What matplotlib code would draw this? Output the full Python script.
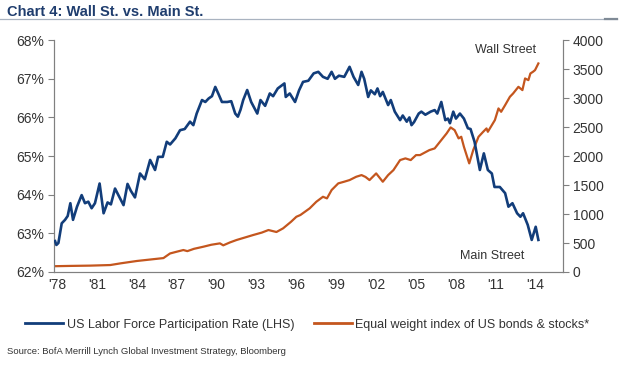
import matplotlib
matplotlib.use('Agg')
import matplotlib.pyplot as plt
from matplotlib import font_manager
from matplotlib.lines import Line2D

names = {f.name for f in font_manager.fontManager.ttflist}
narrow = 'Liberation Sans Narrow' if 'Liberation Sans Narrow' in names else 'Liberation Sans'
plt.rcParams['font.family'] = [narrow, 'DejaVu Sans']

# US labor force participation rate (left axis, %)
lfpr_year = [1977.85, 1977.95, 1978.1, 1978.35, 1978.6, 1978.8, 1979.0, 1979.2, 1979.5, 1979.85,
             1980.1, 1980.35, 1980.6, 1980.85, 1981.2, 1981.5, 1981.8, 1982.05, 1982.36, 1982.6,
             1983.0, 1983.3, 1983.55, 1983.86, 1984.24, 1984.6, 1985.0, 1985.37, 1985.6, 1985.95,
             1986.25, 1986.5, 1986.9, 1987.25, 1987.6, 1988.0, 1988.25, 1988.5, 1988.9, 1989.15,
             1989.4, 1989.65, 1989.9, 1990.15, 1990.4, 1990.8, 1991.1, 1991.4, 1991.6, 1991.8,
             1992.0, 1992.3, 1992.6, 1993.06, 1993.3, 1993.65, 1994.0, 1994.25, 1994.6, 1995.1,
             1995.2, 1995.5, 1995.9, 1996.2, 1996.5, 1996.9, 1997.3, 1997.65, 1998.0, 1998.35,
             1998.65, 1998.9, 1999.2, 1999.6, 2000.0, 2000.3, 2000.65, 2000.9, 2001.1, 2001.4,
             2001.6, 2001.9, 2002.1, 2002.3, 2002.5, 2002.9, 2003.1, 2003.4, 2003.8, 2004.0,
             2004.3, 2004.5, 2004.66, 2004.85, 2005.2, 2005.4, 2005.7, 2006.1, 2006.4, 2006.6,
             2006.9, 2007.2, 2007.4, 2007.55, 2007.8, 2008.0, 2008.3, 2008.6, 2008.9, 2009.1,
             2009.4, 2009.8, 2010.1, 2010.4, 2010.7, 2010.9, 2011.3, 2011.7, 2011.95, 2012.25,
             2012.6, 2012.85, 2013.05, 2013.4, 2013.7, 2013.85, 2014.0, 2014.2]
lfpr_val = [62.8, 62.7, 62.75, 63.26, 63.35, 63.45, 63.78, 63.35, 63.69, 63.99,
            63.78, 63.82, 63.65, 63.78, 64.29, 63.52, 63.8, 63.75, 64.16, 64.0,
            63.73, 64.28, 64.1, 63.93, 64.55, 64.4, 64.9, 64.64, 64.98, 64.98,
            65.37, 65.3, 65.46, 65.67, 65.7, 65.89, 65.8, 66.1, 66.45, 66.4,
            66.49, 66.55, 66.79, 66.6, 66.4, 66.4, 66.42, 66.1, 66.02, 66.2,
            66.45, 66.71, 66.4, 66.1, 66.45, 66.3, 66.62, 66.55, 66.75, 66.88,
            66.53, 66.62, 66.4, 66.7, 66.92, 66.95, 67.14, 67.18, 67.05, 67.0,
            67.18, 67.0, 67.08, 67.05, 67.31, 67.05, 66.84, 67.18, 67.0, 66.53,
            66.7, 66.6, 66.75, 66.55, 66.66, 66.32, 66.45, 66.15, 65.93, 66.05,
            65.89, 66.0, 65.8, 65.88, 66.1, 66.15, 66.07, 66.15, 66.19, 66.1,
            66.4, 65.93, 65.97, 65.85, 66.15, 65.97, 66.1, 65.97, 65.72, 65.7,
            65.37, 64.64, 65.07, 64.64, 64.55, 64.2, 64.2, 64.04, 63.69, 63.78,
            63.52, 63.43, 63.52, 63.22, 62.83, 63.0, 63.17, 62.83]

# Equal weight index of US bonds & stocks (right axis)
idx_year = [1977.8, 1979.0, 1980.5, 1982.0, 1982.8, 1984.0, 1985.0, 1986.0, 1986.5, 1987.0,
            1987.5, 1987.8, 1988.3, 1989.0, 1989.6, 1990.25, 1990.5, 1991.0, 1991.5, 1992.2,
            1992.75, 1993.4, 1993.9, 1994.5, 1995.0, 1995.6, 1996.0, 1996.3, 1997.0, 1997.5,
            1998.0, 1998.3, 1998.65, 1999.15, 1999.6, 2000.0, 2000.5, 2000.9, 2001.2, 2001.5,
            2002.0, 2002.5, 2002.9, 2003.3, 2003.8, 2004.2, 2004.6, 2005.0, 2005.3, 2006.0,
            2006.4, 2006.9, 2007.3, 2007.6, 2007.9, 2008.2, 2008.4, 2008.6, 2008.8, 2009.0,
            2009.3, 2009.7, 2010.05, 2010.3, 2010.4, 2010.93, 2011.2, 2011.4, 2011.7, 2012.06,
            2012.3, 2012.7, 2013.0, 2013.2, 2013.45, 2013.6, 2013.8, 2013.95, 2014.2]
idx_val = [100, 105, 110, 120, 150, 190, 215, 240, 320, 350,
           379, 360, 400, 436, 470, 494, 460, 510, 552, 600,
           638, 680, 724, 690, 753, 867, 953, 983, 1098, 1212,
           1298, 1270, 1414, 1529, 1558, 1586, 1643, 1672, 1640, 1586,
           1701, 1557, 1672, 1758, 1931, 1960, 1931, 2017, 2017, 2103,
           2132, 2276, 2391, 2494, 2448, 2305, 2333, 2161, 2017, 1874,
           2103, 2333, 2419, 2477, 2419, 2621, 2822, 2764, 2879, 3023,
           3080, 3195, 3138, 3339, 3310, 3425, 3455, 3483, 3598]

xticks = list(range(1978, 2015, 3))
xlabels = ["'%02d" % (y % 100) for y in xticks]

blue = '#123d7a'
orange = '#c4561e'
grey = '#808080'
txt = '#333333'

fig = plt.figure(figsize=(6.2, 3.65), dpi=100)
ax = fig.add_axes([0.0871, 0.2548, 0.8209, 0.6352])
ax2 = ax.twinx()

ax.plot(lfpr_year, lfpr_val, color=blue, lw=1.9, zorder=3)
ax2.plot(idx_year, idx_val, color=orange, lw=1.6)
ax.set_zorder(ax2.get_zorder() + 1)
ax.patch.set_visible(False)

ax.set_xlim(1977.77, 2016.05)
ax.set_ylim(62, 68)
ax2.set_ylim(0, 4000)
ax.set_xticks(xticks)
ax.set_xticklabels(xlabels)
ax.set_yticks(range(62, 69))
ax.set_yticklabels(['%d%%' % v for v in range(62, 69)])
ax2.set_yticks(range(0, 4001, 500))

for a in (ax, ax2):
    a.spines['top'].set_visible(False)
    for s in ('left', 'right', 'bottom'):
        a.spines[s].set_color(grey)
        a.spines[s].set_linewidth(0.8)
    a.tick_params(axis='y', direction='out', length=4, width=0.8, color=grey,
                  labelsize=10, labelcolor=txt, pad=3)
ax.tick_params(axis='x', length=0, labelsize=10, labelcolor=txt, pad=4)

ax2.text(2014.0, 3720, 'Wall Street', ha='right', va='bottom', fontsize=9, color=txt)
ax2.text(2010.7, 280, 'Main Street', ha='center', va='center', fontsize=9, color=txt)

handles = [Line2D([], [], color=blue, lw=2),
           Line2D([], [], color=orange, lw=2)]
fig.legend(handles, ['US Labor Force Participation Rate (LHS)',
                     'Equal weight index of US bonds & stocks*'],
           loc='center', bbox_to_anchor=(0.496, 0.11), ncol=2, frameon=False,
           fontsize=9, handlelength=3.0, handletextpad=0.3, columnspacing=1.6,
           labelcolor=txt)

fig.text(0.011, 0.968, 'Chart 4: Wall St. vs. Main St.', fontsize=10.5, fontweight='bold',
         color='#1f3d6e', va='center', ha='left')
fig.add_artist(Line2D([0.0, 0.995], [0.9466, 0.9466], color='#a9b3c0', lw=0.9))
fig.add_artist(Line2D([0.976, 0.995], [0.9466, 0.9466], color='#7f8a96', lw=1.6))
fig.text(0.011, 0.038, 'Source: BofA Merrill Lynch Global Investment Strategy, Bloomberg',
         fontsize=6.8, color=txt, va='center', ha='left')

fig.savefig('out.png', dpi=100)
